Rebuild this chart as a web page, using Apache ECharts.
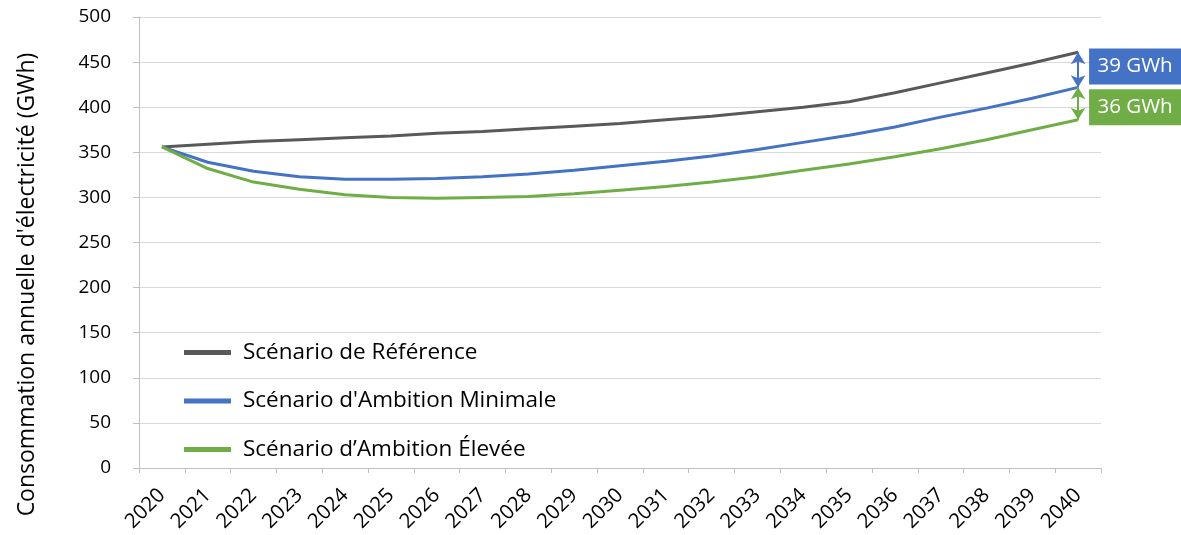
<!DOCTYPE html>
<html><head><meta charset="utf-8">
<script src="https://cdn.jsdelivr.net/npm/echarts@6/dist/echarts.min.js"></script>
<style>html,body{margin:0;padding:0;background:#fff}#c{width:1181px;height:535px}</style>
</head><body><div id="c"></div>
<script>
const years = ['2020','2021','2022','2023','2024','2025','2026','2027','2028','2029','2030','2031','2032','2033','2034','2035','2036','2037','2038','2039','2040'];
const reference = [356,359,362,364,366,368,371,373,376,379,382,386,390,395,400,406,416,427,438,449,461];
const ambitionMin = [356,339,329,323,320,320,321,323,326,330,335,340,346,353,361,369,378,389,399,410,422];
const ambitionHigh = [356,332,317,309,303,300,299,300,301,304,308,312,317,323,330,337,345,354,364,375,386];
const seriesNames = ['Scénario de Référence', "Scénario d'Ambition Minimale", 'Scénario d’Ambition Élevée'];
const yTicks = [0,500,50];

const FONT = 'Open Sans';
const cGray = '#595959', cBlue = '#4472C4', cGreen = '#70AD47';
const last = years.length - 1;
const lastYear = years[last];
const d1 = reference[last] - ambitionMin[last];
const d2 = ambitionMin[last] - ambitionHigh[last];

const chart = echarts.init(document.getElementById('c'), null, {renderer:'canvas'});
chart.setOption({
  animation:false,
  textStyle:{fontFamily:FONT},
  grid:{left:139, right:80, top:17, bottom:67, containLabel:false},
  legend:{
    orient:'vertical', left:184, top:341, itemGap:25.5, padding:0,
    itemWidth:47, itemHeight:5, icon:'rect',
    textStyle:{fontFamily:FONT, fontSize:22.5, color:'#000', padding:[0,0,0,7]},
    data:seriesNames
  },
  xAxis:{
    type:'category', data:years, boundaryGap:true,
    axisLine:{lineStyle:{color:'#bfbfbf', width:1}},
    axisTick:{show:true, alignWithLabel:false, length:5, lineStyle:{color:'#bfbfbf'}},
    axisLabel:{rotate:45, fontFamily:FONT, fontSize:20.5, color:'#000', margin:24, interval:0}
  },
  yAxis:{
    type:'value', min:yTicks[0], max:yTicks[1], interval:yTicks[2],
    name:'Consommation annuelle d\'électricité (GWh)', nameLocation:'middle', nameGap:100, nameRotate:90,
    nameTextStyle:{fontFamily:FONT, fontSize:23, color:'#000', padding:[0,84,0,0]},
    axisLine:{show:true, lineStyle:{color:'#bfbfbf'}},
    axisTick:{show:true, length:6, lineStyle:{color:'#bfbfbf'}},
    axisLabel:{fontFamily:FONT, fontSize:19, color:'#000', margin:28},
    splitLine:{lineStyle:{color:'#d9d9d9', width:1}}
  },
  series:[
    {name:seriesNames[0], type:'line', data:reference, symbol:'none', lineStyle:{width:3, color:cGray}, itemStyle:{color:cGray}},
    {name:seriesNames[1], type:'line', data:ambitionMin, symbol:'none', lineStyle:{width:3, color:cBlue}, itemStyle:{color:cBlue},
      markLine:{silent:true, symbol:['arrow','arrow'], symbolSize:[11,12], label:{show:false},
        lineStyle:{color:cBlue, width:2, type:'solid'},
        data:[[{coord:[lastYear, reference[last]]},{coord:[lastYear, ambitionMin[last]]}]]},
      markPoint:{silent:true, symbol:'rect', symbolSize:[92,36], symbolOffset:[57,0], itemStyle:{color:cBlue},
        label:{show:true, color:'#fff', fontFamily:FONT, fontSize:20.5, formatter:d1+' GWh'},
        data:[{coord:[lastYear, (reference[last]+ambitionMin[last])/2 + 3.5]}]}
    },
    {name:seriesNames[2], type:'line', data:ambitionHigh, symbol:'none', lineStyle:{width:3, color:cGreen}, itemStyle:{color:cGreen},
      markLine:{silent:true, symbol:['arrow','arrow'], symbolSize:[11,12], label:{show:false},
        lineStyle:{color:cGreen, width:2, type:'solid'},
        data:[[{coord:[lastYear, ambitionMin[last]]},{coord:[lastYear, ambitionHigh[last]]}]]},
      markPoint:{silent:true, symbol:'rect', symbolSize:[92,36], symbolOffset:[57,0], itemStyle:{color:cGreen},
        label:{show:true, color:'#fff', fontFamily:FONT, fontSize:20.5, formatter:d2+' GWh'},
        data:[{coord:[lastYear, (ambitionMin[last]+ambitionHigh[last])/2 - 4]}]}
    }
  ]
});
</script></body></html>
